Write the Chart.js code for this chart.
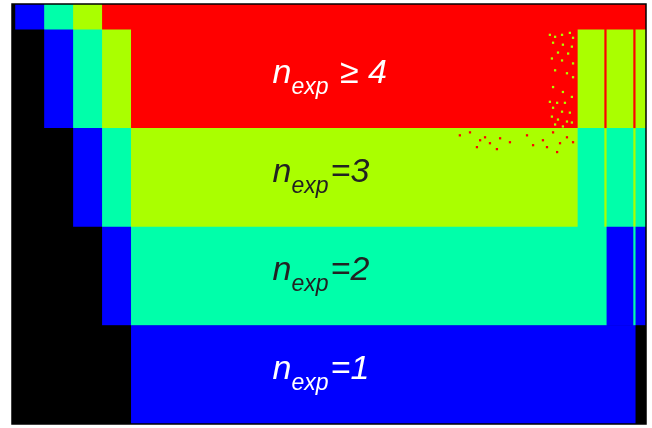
<!DOCTYPE html>
<html>
<head>
<meta charset="utf-8">
<script src="https://cdn.jsdelivr.net/npm/chart.js@4.4.1/dist/chart.umd.min.js"></script>
<style>
  html, body { margin: 0; padding: 0; background: #fff; }
  #wrap { width: 652px; height: 428px; position: relative; }
</style>
</head>
<body>
<div id="wrap"><canvas id="mapa"></canvas></div>
<script>
// linhas do mapa (y) e faixas de cada nivel: [linha, inicio, fim]
var rowValues = [1, 2, 3, 4, 5];

var segNivel0 = [[5, 0, 0.1], [4, 0, 1.1], [3, 0, 2.1], [2, 0, 3.1], [1, 0, 4.1], [1, 21.55, 21.9]];
var segNivel1 = [[5, 0.1, 1.1], [4, 1.1, 2.1], [3, 2.1, 3.1], [2, 3.1, 4.1], [2, 20.55, 21.45], [2, 21.55, 21.9], [1, 4.1, 21.55]];
var segNivel2 = [[5, 1.1, 2.1], [4, 2.1, 3.1], [3, 3.1, 4.1], [3, 19.55, 20.45], [3, 20.55, 21.45], [3, 21.55, 21.9], [2, 4.1, 20.55], [2, 21.45, 21.55]];
var segNivel3 = [[5, 2.1, 3.1], [4, 3.1, 4.1], [4, 19.55, 20.45], [4, 20.55, 21.45], [4, 21.55, 21.9], [3, 4.1, 19.55], [3, 20.45, 20.55], [3, 21.45, 21.55]];
var segNivel4 = [[5, 3.1, 21.9], [4, 4.1, 19.55], [4, 20.45, 20.55], [4, 21.45, 21.55]];

// pontos isolados (ruido) na transicao entre niveis 3 e 4
var pontosN3x = [18.58, 18.76, 19.00, 19.27, 19.38, 18.69, 19.03, 19.34, 18.86, 19.21, 18.65, 19.00, 19.38, 18.76, 19.17, 19.38,
                 18.69, 19.03, 19.34, 18.58, 18.83, 19.10, 18.69, 19.00, 19.27, 18.65, 18.86, 19.17, 18.76, 19.03, 19.34];
var pontosN3y = [4.45, 4.43, 4.45, 4.47, 4.42, 4.37, 4.35, 4.33, 4.27, 4.26, 4.21, 4.19, 4.16, 4.09, 4.06, 4.02,
                 3.92, 3.87, 3.82, 3.77, 3.76, 3.76, 3.71, 3.67, 3.66, 3.62, 3.59, 3.57, 3.54, 3.52, 3.56];
var pontosN4x = [15.47, 15.82, 16.17, 16.34, 16.51, 16.86, 17.20, 17.79, 18.00, 18.34, 18.69, 18.93, 19.17, 19.38, 16.06, 16.75, 18.48, 18.83];
var pontosN4y = [3.43, 3.46, 3.38, 3.41, 3.35, 3.40, 3.36, 3.43, 3.33, 3.38, 3.46, 3.35, 3.41, 3.36, 3.31, 3.29, 3.31, 3.26];

// rotulos das regioes
var labelRows = [4, 3, 2, 1];
var labelTails = [' \u2265 4', '=3', '=2', '=1'];

var cores = ['#000000', '#0000FF', '#00FFAA', '#AAFF00', '#FF0000'];
var niveis = [segNivel0, segNivel1, segNivel2, segNivel3, segNivel4];

var datasets = niveis.map(function (seg, i) {
    return {
        type: 'bar',
        label: 'n' + i,
        data: seg.map(function (s) { return { y: s[0], x: [s[1], s[2]] }; }),
        backgroundColor: cores[i],
        borderWidth: 0,
        grouped: false,
        categoryPercentage: 1,
        barPercentage: 1
    };
});

function montaPontos(xs, ys, cor) {
    return {
        type: 'scatter',
        data: xs.map(function (x, i) { return { x: x, y: ys[i] }; }),
        backgroundColor: cor,
        borderWidth: 0,
        pointStyle: 'rect',
        pointRadius: 1.6,
        order: -1
    };
}
datasets.push(montaPontos(pontosN3x, pontosN3y, cores[3]));
datasets.push(montaPontos(pontosN4x, pontosN4y, cores[4]));

// fundo preto da area (evita emendas entre as faixas)
var fundoPlugin = {
    id: 'fundo',
    beforeDatasetsDraw: function (chart) {
        var a = chart.chartArea;
        chart.ctx.save();
        chart.ctx.fillStyle = '#000';
        chart.ctx.fillRect(a.left, a.top, a.right - a.left, a.bottom - a.top);
        chart.ctx.restore();
    }
};

// desenha os textos n_exp e a moldura
var rotulosPlugin = {
    id: 'rotulos',
    afterDatasetsDraw: function (chart) {
        var ctx = chart.ctx;
        var xs = chart.scales.x, ys = chart.scales.y;
        ctx.save();
        ctx.textBaseline = 'alphabetic';
        ctx.textAlign = 'left';
        labelRows.forEach(function (r, i) {
            var x = xs.getPixelForValue(9.0);
            var y = ys.getPixelForValue(r) + 4;
            ctx.fillStyle = (r === 3 || r === 2) ? '#222222' : '#ffffff';
            ctx.font = 'italic 34px "Liberation Sans", Arial, sans-serif';
            ctx.fillText('n', x, y);
            var w = ctx.measureText('n').width;
            ctx.font = 'italic 23px "Liberation Sans", Arial, sans-serif';
            ctx.fillText('exp', x + w, y + 11);
            var w2 = ctx.measureText('exp').width;
            ctx.font = 'italic 34px "Liberation Sans", Arial, sans-serif';
            ctx.fillText(labelTails[i], x + w + w2 + 2, y);
        });
        var a = chart.chartArea;
        ctx.strokeStyle = '#000';
        ctx.lineWidth = 1.5;
        ctx.strokeRect(a.left, a.top, a.right - a.left, a.bottom - a.top);
        ctx.restore();
    }
};

var ctx = document.getElementById('mapa').getContext('2d');
var myChart = new Chart(ctx, {
    type: 'bar',
    data: { datasets: datasets },
    options: {
        indexAxis: 'y',
        responsive: true,
        maintainAspectRatio: false,
        animation: false,
        layout: { padding: { left: 12, right: 6, top: 4, bottom: 3 } },
        plugins: { legend: { display: false }, tooltip: { enabled: false } },
        scales: {
            x: { type: 'linear', min: 0, max: 21.9, display: false },
            y: {
                type: 'linear', min: 0.5, max: 4.763, display: false,
                offset: false, grid: { offset: false },
                afterBuildTicks: function (s) {
                    s.ticks = rowValues.map(function (v) { return { value: v }; });
                }
            }
        }
    },
    plugins: [fundoPlugin, rotulosPlugin]
});
</script>
</body>
</html>
